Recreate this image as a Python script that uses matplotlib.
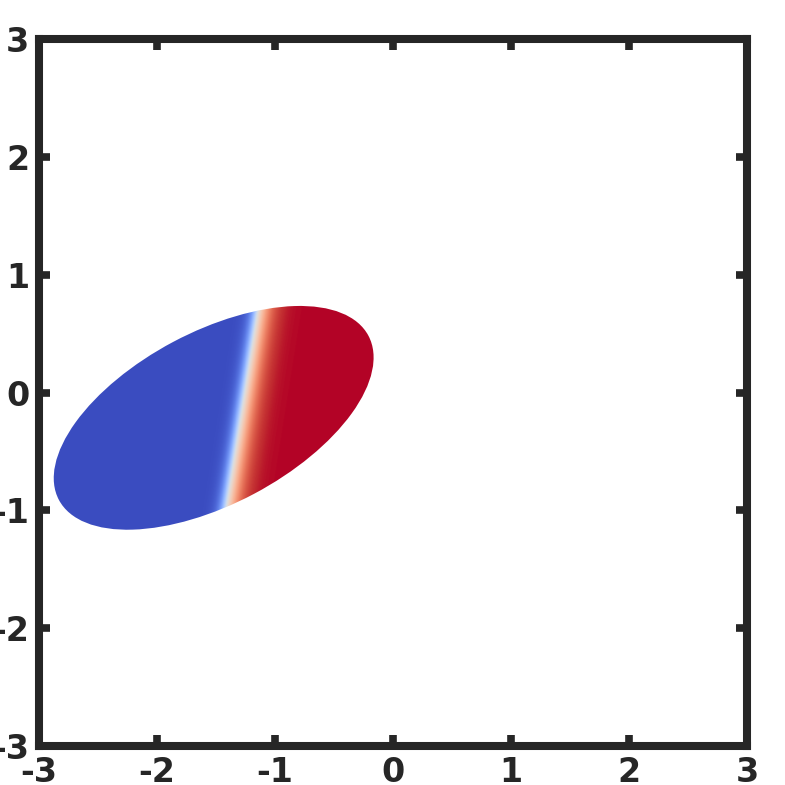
import numpy as np
import matplotlib.pyplot as plt
from matplotlib.patches import Ellipse

# ellipse (data units)
centre = [-1.52, -0.215]
demi_axes = [1.485, 0.73]
angle_deg = 28.0

# interface between the two phases: two points on it
interface_p1 = [-1.150, 0.677]
interface_p2 = [-1.405, -0.924]
largeur_bleu = 0.07
largeur_rouge = 0.13

ticks = [-3, -2, -1, 0, 1, 2, 3]
limites = [-3, 3]

# champ de phase sur une grille fine
xs = np.linspace(limites[0], limites[1], 1200)
ys = np.linspace(limites[0], limites[1], 1200)
X, Y = np.meshgrid(xs, ys)
dx = interface_p1[0] - interface_p2[0]
dy = interface_p1[1] - interface_p2[1]
n = np.array([dy, -dx]) / np.hypot(dx, dy)
d = n[0] * (X - interface_p1[0]) + n[1] * (Y - interface_p1[1])
phi = np.tanh(d / np.where(d < 0, largeur_bleu, largeur_rouge))

fig = plt.figure(figsize=(7.85, 7.85), dpi=100)
ax = fig.add_axes([0.0497, 0.0497, 0.902, 0.9006])

im = ax.imshow(phi, extent=[limites[0], limites[1], limites[0], limites[1]],
               origin='lower', cmap='coolwarm', vmin=-1, vmax=1,
               interpolation='bilinear')
ell = Ellipse(centre, 2 * demi_axes[0], 2 * demi_axes[1], angle=angle_deg,
              transform=ax.transData, facecolor='none', edgecolor='none')
ax.add_patch(ell)
im.set_clip_path(ell)

ax.set_xlim(limites)
ax.set_ylim(limites)
ax.set_aspect('auto')
ax.set_xticks(ticks)
ax.set_yticks(ticks)
ax.set_xticklabels([str(t) for t in ticks])
ax.set_yticklabels([str(t) for t in ticks])

couleur = '#262626'
for s in ax.spines.values():
    s.set_linewidth(5.8)
    s.set_color(couleur)
ax.tick_params(direction='in', length=8, width=5.5, color=couleur,
               labelcolor=couleur, labelsize=24, pad=7,
               top=True, right=True)
for lab in ax.get_xticklabels() + ax.get_yticklabels():
    lab.set_fontweight('bold')

fig.savefig('out.png', dpi=100)
